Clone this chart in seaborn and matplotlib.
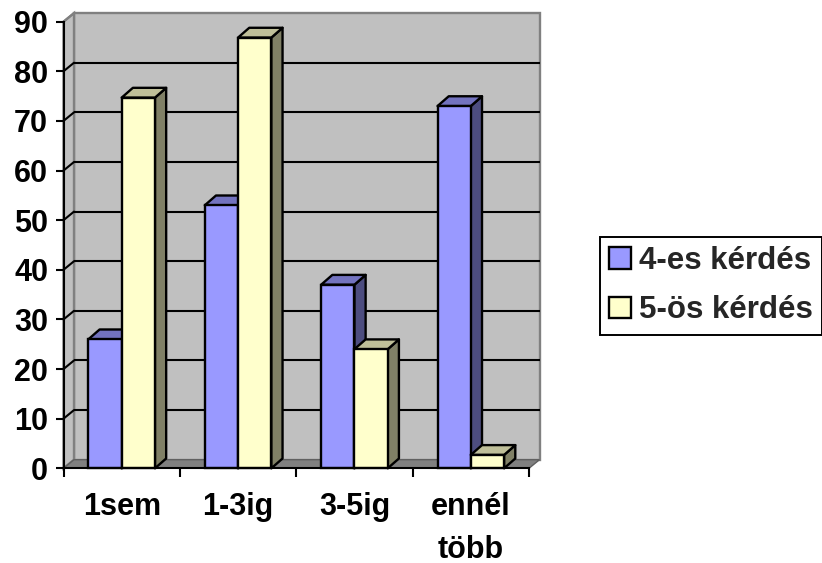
import numpy as np
import pandas as pd
import seaborn as sns
from matplotlib import pyplot as plt
from matplotlib.colors import to_rgb
from matplotlib.patches import Polygon

CATEGORIES = ["1sem", "1-3ig", "3-5ig", "ennél\ntöbb"]
SERIES_NAMES = ["4-es kérdés", "5-ös kérdés"]
QUESTION_4 = [26, 53, 37, 73]
QUESTION_5 = [74.7, 86.8, 24, 2.7]
COLORS = ["#9999ff", "#ffffcc"]
Y_TICKS = list(range(0, 100, 10))

W, H = 822, 563
# depth of the fake 3d effect, in pixels
DEPTH_PX = (10.5, 8.6)
BAR_DEPTH_PX = (11.2, 9.8)


def shade(color, factor):
    return tuple(c * factor for c in to_rgb(color))


def add_poly(ax, pts, zorder, **kwargs):
    ax.add_patch(Polygon(pts, closed=True, clip_on=False, zorder=zorder, **kwargs))


def main():
    sns.set_theme(style="ticks")
    plt.rcParams["font.family"] = ["Liberation Sans", "DejaVu Sans"]
    plt.rcParams["font.weight"] = "bold"

    df = pd.DataFrame(
        {
            "category": CATEGORIES * 2,
            "series": np.repeat(SERIES_NAMES, len(CATEGORIES)),
            "value": QUESTION_4 + QUESTION_5,
        }
    )

    fig = plt.figure(figsize=(W / 100, H / 100), dpi=100, facecolor="white")
    ax = fig.add_axes([63.5 / W, 1 - 468.3 / H, 465.5 / W, 446.6 / H])
    ax.patch.set_visible(False)

    sns.barplot(
        data=df,
        x="category",
        y="value",
        hue="series",
        palette=COLORS,
        saturation=1,
        width=0.572,
        gap=0,
        edgecolor="black",
        linewidth=1.7,
        ax=ax,
    )

    ax.set_xlim(-0.5, len(CATEGORIES) - 0.5)
    ax.set_ylim(0, Y_TICKS[-1])
    x_scale = len(CATEGORIES) / 465.5
    y_scale = Y_TICKS[-1] / 446.6
    dx, dy = DEPTH_PX[0] * x_scale, DEPTH_PX[1] * y_scale
    bdx, bdy = BAR_DEPTH_PX[0] * x_scale, BAR_DEPTH_PX[1] * y_scale
    x0, x1 = ax.get_xlim()
    y0, y1 = ax.get_ylim()

    # walls and floor
    wall = dict(facecolor="#c0c0c0", edgecolor="#808080", linewidth=1.7)
    add_poly(ax, [(x0 + dx, y0 + dy), (x1 + dx, y0 + dy), (x1 + dx, y1 + dy), (x0 + dx, y1 + dy)], 0.1, **wall)
    add_poly(ax, [(x0, y0), (x0 + dx, y0 + dy), (x0 + dx, y1 + dy), (x0, y1)], 0.2, **wall)
    add_poly(ax, [(x0, y0), (x1, y0), (x1 + dx, y0 + dy), (x0 + dx, y0 + dy)], 0.3,
             facecolor="#808080", edgecolor="#606060", linewidth=1)

    # gridlines on the back wall and left wall
    for tick in Y_TICKS[1:-1]:
        ax.plot([x0 + dx, x1 + dx], [tick + dy, tick + dy], color="black", lw=1.5,
                clip_on=False, zorder=0.5, solid_capstyle="butt")
    for tick in Y_TICKS[1:]:
        ax.plot([x0, x0 + dx], [tick, tick + dy], color="black" if tick < Y_TICKS[-1] else "#808080",
                lw=1.5, clip_on=False, zorder=0.5)

    # bars get their top and side faces
    z = 2
    for container, color in zip(ax.containers, COLORS):
        for bar in container:
            left, right = bar.get_x(), bar.get_x() + bar.get_width()
            top = bar.get_height()
            edge = dict(edgecolor="black", linewidth=1.7, joinstyle="round")
            add_poly(ax, [(right, 0), (right + bdx, bdy), (right + bdx, top + bdy), (right, top)], z,
                     facecolor=shade(color, 0.5), **edge)
            add_poly(ax, [(left, top), (right, top), (right + bdx, top + bdy), (left + bdx, top + bdy)], z,
                     facecolor=shade(color, 0.75), **edge)
            bar.set_zorder(z + 0.5)
            bar.set_clip_on(False)
        z += 1

    sns.despine(ax=ax)
    for side in ("left", "bottom"):
        ax.spines[side].set_color("black")
        ax.spines[side].set_linewidth(1.5)
        ax.spines[side].set_zorder(6)

    ax.set_xlabel(None)
    ax.set_ylabel(None)
    ax.set_yticks(Y_TICKS)
    ax.tick_params(axis="y", labelsize=22, length=6, width=1.5, pad=5, color="black", labelcolor="black")
    ax.set_xticks(range(len(CATEGORIES)), CATEGORIES, linespacing=1.55)
    ax.set_xticks(np.arange(len(CATEGORIES) + 1) - 0.5, minor=True)
    ax.tick_params(axis="x", which="major", labelsize=22, length=0, pad=17, labelcolor="black")
    ax.tick_params(axis="x", which="minor", length=6.5, width=1.5, color="black")

    ax.legend(
        title=None,
        loc="upper left",
        bbox_to_anchor=(600 / W, 1 - 236.5 / H),
        bbox_transform=fig.transFigure,
        fontsize=22.5,
        fancybox=False,
        framealpha=1,
        edgecolor="black",
        handlelength=0.68,
        handleheight=0.68,
        handletextpad=0.26,
        labelspacing=0.62,
        borderpad=0.3,
        borderaxespad=0,
    ).get_frame().set_linewidth(1.4)

    fig.savefig("out.png", dpi=100)


if __name__ == "__main__":
    main()
